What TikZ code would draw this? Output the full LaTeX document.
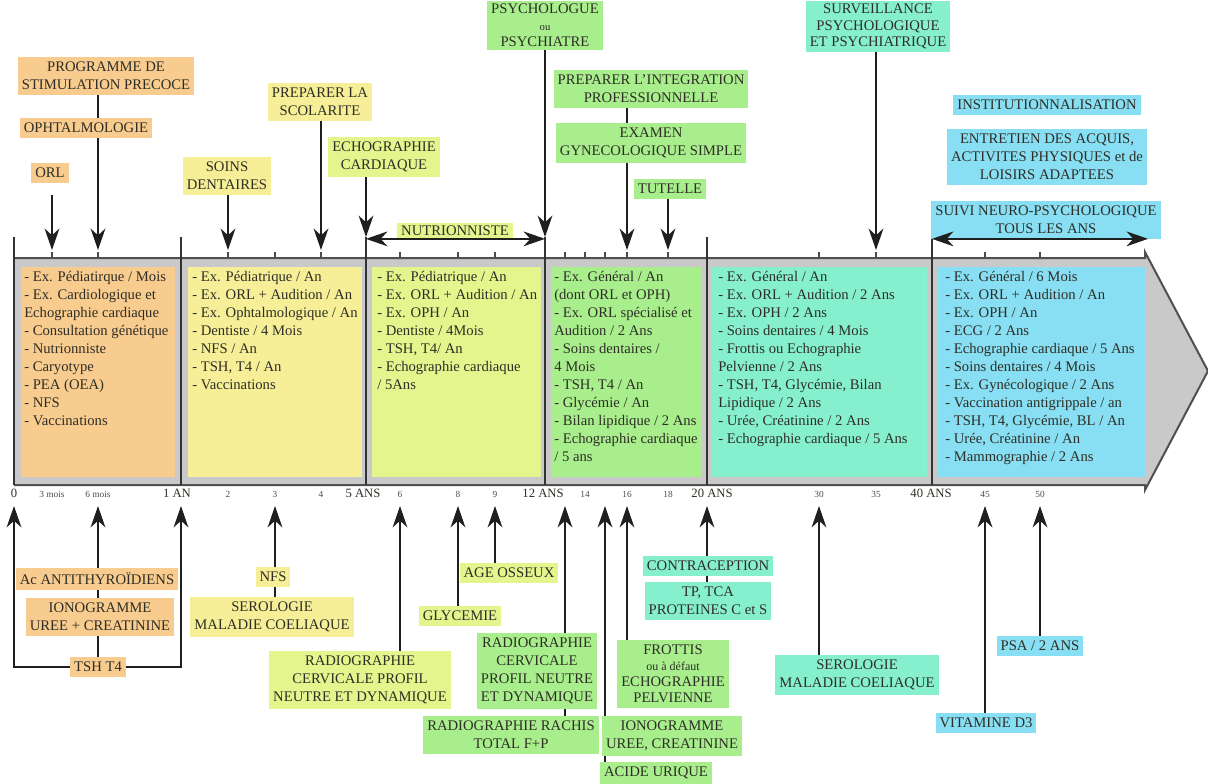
\documentclass[tikz,border=0pt]{standalone}
\usepackage{fontspec}
\setmainfont{Liberation Serif}
\usepackage{xcolor}
\usetikzlibrary{arrows.meta,positioning,calc}

\definecolor{txt}{HTML}{2E2E26}
\definecolor{cOr}{HTML}{F8CB8E}
\definecolor{cYe}{HTML}{F6EF98}
\definecolor{cLi}{HTML}{E4F58E}
\definecolor{cGr}{HTML}{A9EE8C}
\definecolor{cAq}{HTML}{86F0CE}
\definecolor{cBl}{HTML}{88DEF2}
\definecolor{bandgray}{HTML}{C9C9C9}
\definecolor{bandline}{HTML}{505050}

\begin{document}
\begin{tikzpicture}[x=0.75pt,y=-0.75pt,
  lbl/.style={rectangle,inner xsep=3pt,inner ysep=3.5pt,align=center,text=txt,font=\fontsize{11}{13.5}\selectfont},
  pan/.style={anchor=north west,align=left,inner sep=0pt,text=txt,font=\fontsize{11}{13.5}\selectfont},
  edge/.style={-{Stealth[length=16pt,width=11pt,inset=5pt]},line width=1.7pt,black!88},
  dbl/.style={{Stealth[length=16pt,width=11pt,inset=5pt]}-{Stealth[length=16pt,width=11pt,inset=5pt]},line width=1.7pt,black!88},
  link/.style={line width=1.7pt,black!88},
  sepline/.style={line width=1.3pt,black!80},
  tick/.style={line width=1pt,black!70},
  yr/.style={anchor=base,text=txt!85,font=\fontsize{7}{8}\selectfont},
  ans/.style={anchor=base,text=txt,font=\fontsize{9.5}{11}\selectfont}]
\useasboundingbox (0,0) rectangle (1208,783);
\fill[white] (0,0) rectangle (1208,783);

% time band
\fill[bandgray] (14,258) -- (1145,258) -- (1145,252) -- (1208,371) -- (1145,490) -- (1145,485) -- (14,485) -- cycle;
\draw[bandline,line width=1.5pt] (14,258) -- (1145,258) -- (1145,252) -- (1208,371) -- (1145,490) -- (1145,485) -- (14,485);
\fill[cOr] (21,267) rectangle (175,477);
\fill[cYe] (188,267) rectangle (362,477);
\fill[cLi] (372,267) rectangle (541,477);
\fill[cGr] (551,267) rectangle (702,477);
\fill[cAq] (711,267) rectangle (927,477);
\fill[cBl] (938,267) rectangle (1145,477);

\foreach \n/\x in {0/14,1/181,5/366,12/545,20/707,40/932}{
  \draw[sepline] (\x,237) -- (\x,485);
  \coordinate (s\n) at (\x,237);
  \coordinate (b\n) at (\x,506);
}
\foreach \n/\x in {3m/52,6m/98,2/228,3/275,4/321,6/400,8/458,9/495,13/565,14/585,15/605,16/627,18/668,30/819,35/876,45/985,50/1040}{
  \draw[tick] (\x,252) -- (\x,258);
  \coordinate (t\n) at (\x,250);
  \coordinate (b\n) at (\x,506);
}

% axis labels
\foreach \n/\x/\t in {3m/52/3 mois,6m/98/6 mois,2/228/2,3/275/3,4/321/4,6/400/6,8/458/8,9/495/9,14/585/14,16/627/16,18/668/18,30/819/30,35/876/35,45/985/45,50/1040/50}
  \node[yr] (l\n) at (\x,497) {\t};
\foreach \n/\x/\t in {0/14/0,1/177/1 AN,5/363/5 ANS,12/543/12 ANS,20/712/20 ANS,40/931/40 ANS}
  \node[ans] (l\n) at (\x,497) {\t};

% panels
\node[pan] (p1) at (24,271) {- Ex. Pédiatirque / Mois\\- Ex. Cardiologique et\\Echographie cardiaque\\- Consultation génétique\\- Nutrionniste\\- Caryotype\\- PEA (OEA)\\- NFS\\- Vaccinations};
\node[pan] (p2) at (192,271) {- Ex. Pédiatrique / An\\- Ex. ORL + Audition / An\\- Ex. Ophtalmologique / An\\- Dentiste / 4 Mois\\- NFS / An\\- TSH, T4 / An\\- Vaccinations};
\node[pan] (p3) at (377,271) {- Ex. Pédiatrique / An\\- Ex. ORL + Audition / An\\- Ex. OPH / An\\- Dentiste / 4Mois\\- TSH, T4/ An\\- Echographie cardiaque\\/ 5Ans};
\node[pan] (p4) at (554,271) {- Ex. Général / An\\(dont ORL et OPH)\\- Ex. ORL spécialisé et\\Audition / 2 Ans\\- Soins dentaires /\\4 Mois\\- TSH, T4 / An\\- Glycémie / An\\- Bilan lipidique / 2 Ans\\- Echographie cardiaque\\/ 5 ans};
\node[pan] (p5) at (718,271) {- Ex. Général / An\\- Ex. ORL + Audition / 2 Ans\\- Ex. OPH / 2 Ans\\- Soins dentaires / 4 Mois\\- Frottis ou Echographie\\Pelvienne / 2 Ans\\- TSH, T4, Glycémie, Bilan\\Lipidique / 2 Ans\\- Urée, Créatinine / 2 Ans\\- Echographie cardiaque / 5 Ans};
\node[pan] (p6) at (945,271) {- Ex. Général / 6 Mois\\- Ex. ORL + Audition / An\\- Ex. OPH / An\\- ECG / 2 Ans\\- Echographie cardiaque / 5 Ans\\- Soins dentaires / 4 Mois\\- Ex. Gynécologique / 2 Ans\\- Vaccination antigrippale / an\\- TSH, T4, Glycémie, BL / An\\- Urée, Créatinine / An\\- Mammographie / 2 Ans};

% above the band
\node[lbl,fill=cOr] (prog) at (106,76) {PROGRAMME DE\\STIMULATION PRECOCE};
\node[lbl,fill=cOr] (oph) at (86,128) {OPHTALMOLOGIE};
\node[lbl,fill=cOr] (orl) at (50,173) {ORL};
\node[lbl,fill=cYe] (soins) at (227,176) {SOINS\\DENTAIRES};
\node[lbl,fill=cYe] (scol) at (320,102) {PREPARER LA\\SCOLARITE};
\node[lbl,fill=cLi] (echo) at (384,157) {ECHOGRAPHIE\\CARDIAQUE};
\node[lbl,fill=cLi,inner ysep=2pt] (nutri) at (455,231) {NUTRIONNISTE};
\node[lbl,fill=cGr,anchor=north,inner ysep=2pt,font=\fontsize{11}{12.5}\selectfont] (psy) at (545,1) {PSYCHOLOGUE\\{\fontsize{8}{9}\selectfont ou}\\PSYCHIATRE};
\node[lbl,fill=cGr] (integ) at (651,89) {PREPARER L’INTEGRATION\\PROFESSIONNELLE};
\node[lbl,fill=cGr] (gyn) at (651,143) {EXAMEN\\GYNECOLOGIQUE SIMPLE};
\node[lbl,fill=cGr] (tut) at (670,189) {TUTELLE};
\node[lbl,fill=cAq,anchor=north,inner ysep=2pt,font=\fontsize{11}{12.5}\selectfont] (surv) at (878,1) {SURVEILLANCE\\PSYCHOLOGIQUE\\ET PSYCHIATRIQUE};
\node[lbl,fill=cBl] (inst) at (1047,105) {INSTITUTIONNALISATION};
\node[lbl,fill=cBl] (entr) at (1047,157) {ENTRETIEN DES ACQUIS,\\ACTIVITES PHYSIQUES et de\\LOISIRS ADAPTEES};
\node[lbl,fill=cBl] (suivi) at (1046,220) {SUIVI NEURO-PSYCHOLOGIQUE\\TOUS LES ANS};
\coordinate (send) at (1148,237);

\draw[edge,shorten <=9pt] (t3m |- orl.south) -- (t3m);
\draw[link] (t6m |- prog.south) -- (t6m |- oph.north);
\draw[edge] (t6m |- oph.south) -- (t6m);
\draw[edge] (t2 |- soins.south) -- (t2);
\draw[edge] (t4 |- scol.south) -- (t4);
\draw[edge] (s5 |- echo.south) -- (s5);
\draw[dbl] (s5 |- nutri.south) -- (s12 |- nutri.south);
\draw[edge] (s12 |- psy.south) -- (s12);
\draw[link] (t16 |- integ.south) -- (t16 |- gyn.north);
\draw[edge] (t16 |- gyn.south) -- (t16);
\draw[edge] (t18 |- tut.south) -- (t18);
\draw[edge] (t35 |- surv.south) -- (t35);
\draw[dbl] (s40 |- suivi.south) -- (send |- suivi.south);

% below the band
\node[lbl,fill=cOr] (anti) at (97,579) {Ac ANTITHYROÏDIENS};
\node[lbl,fill=cOr] (iono) at (100,617) {IONOGRAMME\\UREE + CREATININE};
\node[lbl,fill=cOr] (tsh) at (98,667) {TSH T4};
\node[lbl,fill=cYe] (nfs) at (273,577) {NFS};
\node[lbl,fill=cYe] (sero) at (272,617) {SEROLOGIE\\MALADIE COELIAQUE};
\node[lbl,fill=cLi] (radio) at (360,680) {RADIOGRAPHIE\\CERVICALE PROFIL\\NEUTRE ET DYNAMIQUE};
\node[lbl,fill=cLi] (glyc) at (460,616) {GLYCEMIE};
\node[lbl,fill=cLi] (age) at (509,573) {AGE OSSEUX};
\node[lbl,fill=cGr] (radcv) at (537,671) {RADIOGRAPHIE\\CERVICALE\\PROFIL NEUTRE\\ET DYNAMIQUE};
\node[lbl,fill=cGr] (rachis) at (511,735) {RADIOGRAPHIE RACHIS\\TOTAL F+P};
\node[lbl,fill=cGr,font=\fontsize{11}{12}\selectfont] (frot) at (673,674) {FROTTIS\\{\fontsize{9}{10}\selectfont ou à défaut}\\ECHOGRAPHIE\\PELVIENNE};
\node[lbl,fill=cGr] (ionob) at (672,736) {IONOGRAMME\\UREE, CREATININE};
\node[lbl,fill=cGr] (acide) at (656,773) {ACIDE URIQUE};
\node[lbl,fill=cAq] (contra) at (708,566) {CONTRACEPTION};
\node[lbl,fill=cAq] (tp) at (708,601) {TP, TCA\\PROTEINES C et S};
\node[lbl,fill=cAq] (serob) at (857,675) {SEROLOGIE\\MALADIE COELIAQUE};
\node[lbl,fill=cBl] (vitd) at (986,723) {VITAMINE D3};
\node[lbl,fill=cBl] (psa) at (1040,646) {PSA / 2 ANS};

\draw[edge] (tsh.west) -| (b0);
\draw[edge] (tsh.east) -| (b1);
\draw[link] (b6m |- tsh.north) -- (b6m |- iono.south);
\draw[link] (b6m |- iono.north) -- (b6m |- anti.south);
\draw[edge] (b6m |- anti.north) -- (b6m);
\draw[link] (b3 |- sero.north) -- (b3 |- nfs.south);
\draw[edge] (b3 |- nfs.north) -- (b3);
\draw[edge] (b6 |- radio.north) -- (b6);
\draw[edge] (b8 |- glyc.north) -- (b8);
\draw[edge] (b9 |- age.north) -- (b9);
\draw[link] (b13 |- rachis.north) -- (b13 |- radcv.south);
\draw[edge] (b13 |- radcv.north) -- (b13);
\draw[link] (b15 |- acide.north) -- (b15 |- ionob.south);
\draw[edge] (b15 |- ionob.north) -- (b15);
\draw[edge] (b16 |- frot.north) -- (b16);
\draw[link] (b20 |- tp.north) -- (b20 |- contra.south);
\draw[edge] (b20 |- contra.north) -- (b20);
\draw[edge] (b30 |- serob.north) -- (b30);
\draw[edge] (b45 |- vitd.north) -- (b45);
\draw[edge] (b50 |- psa.north) -- (b50);
\end{tikzpicture}
\end{document}
